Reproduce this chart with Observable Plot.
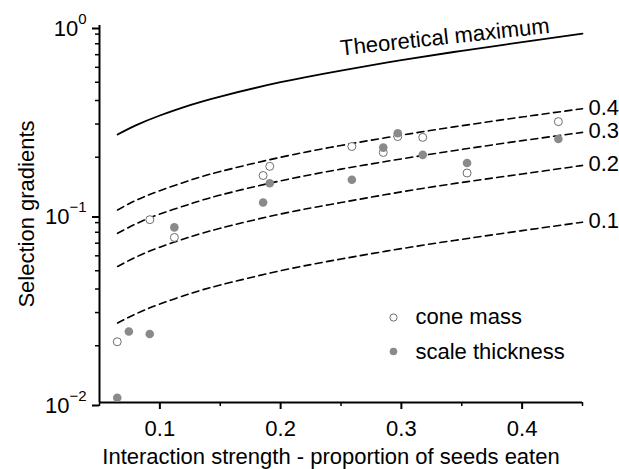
<!DOCTYPE html>
<html><head><meta charset="utf-8">
<script src="https://cdn.jsdelivr.net/npm/d3@7"></script>
<script src="https://cdn.jsdelivr.net/npm/@observablehq/plot@0.6"></script>
<style>body{margin:0;background:#fff}</style>
</head><body><div id="chart"></div>
<script>
const xTitle = "Interaction strength - proportion of seeds eaten";
const yTitle = "Selection gradients";

// cone mass (open circles)
const coneMassX = [0.0647, 0.0917, 0.112, 0.1855, 0.191, 0.259, 0.285, 0.297, 0.3177, 0.3544, 0.430];
const coneMassY = [0.0210, 0.0933, 0.0751, 0.160, 0.179, 0.228, 0.212, 0.2575, 0.255, 0.165, 0.309];
// scale thickness (filled circles)
const scaleX = [0.0647, 0.0743, 0.0916, 0.112, 0.1855, 0.191, 0.259, 0.285, 0.297, 0.3177, 0.3544, 0.430];
const scaleY = [0.0106, 0.0238, 0.0231, 0.0849, 0.115, 0.1455, 0.152, 0.225, 0.268, 0.206, 0.1866, 0.250];

// curves
const curveX = [0.065, 0.08, 0.10, 0.125, 0.15, 0.20, 0.25, 0.30, 0.35, 0.40, 0.45];
const theoretical = [0.264, 0.295, 0.333, 0.378, 0.42, 0.50, 0.577, 0.655, 0.734, 0.816, 0.905];
const grad04 = [0.105, 0.118, 0.133, 0.151, 0.168, 0.200, 0.231, 0.262, 0.294, 0.327, 0.362];
const grad03 = [0.079, 0.0885, 0.100, 0.113, 0.126, 0.150, 0.173, 0.196, 0.220, 0.245, 0.271];
const grad02 = [0.0527, 0.059, 0.0667, 0.0756, 0.084, 0.100, 0.115, 0.131, 0.147, 0.163, 0.181];
const grad01 = [0.0264, 0.0295, 0.0333, 0.0378, 0.042, 0.050, 0.0577, 0.0655, 0.0734, 0.0816, 0.0905];
const curveLevels = ["0.4", "0.3", "0.2", "0.1"];

const xMajorTicks = [0.1, 0.2, 0.3, 0.4];
const xMinorTicks = [0.05, 0.15, 0.25, 0.35, 0.45];
const yMajorTicks = [0.01, 0.1, 1];
const yMinorTicks = [0.02,0.03,0.04,0.05,0.06,0.07,0.08,0.09,0.2,0.3,0.4,0.5,0.6,0.7,0.8,0.9];
const legendLabels = ["cone mass", "scale thickness"];
const theoLabel = [{x: 0.336, y: 0.867, text: "Theoretical maximum"}];

const cone = coneMassX.map((x, i) => ({x, y: coneMassY[i]}));
const scale = scaleX.map((x, i) => ({x, y: scaleY[i]}));
const theory = curveX.map((x, i) => ({x, y: theoretical[i]}));
const curves = [grad04, grad03, grad02, grad01].flatMap((vals, k) =>
  vals.map((v, i) => ({x: curveX[i], y: v, level: curveLevels[k]})));
const curveEnds = [grad04, grad03, grad02, grad01].map((vals, k) =>
  ({x: curveX[curveX.length - 1], y: vals[vals.length - 1], level: curveLevels[k]}));

const FONT = "'Liberation Sans', Arial, Helvetica, sans-serif";

const chart = Plot.plot({
  width: 619, height: 469,
  marginTop: 25, marginBottom: 67, marginLeft: 99, marginRight: 37,
  style: {fontFamily: FONT, fontSize: "22px", color: "#000", background: "#fff"},
  x: {type: "linear", domain: [0.05, 0.45]},
  y: {type: "log", domain: [0.01, 1]},
  marks: [
    Plot.axisX({ticks: xMajorTicks, tickSize: 7, tickPadding: 11, strokeWidth: 2, tickFormat: d => d.toFixed(1), label: null}),
    Plot.axisX({ticks: xMinorTicks, tickSize: 4, strokeWidth: 1.5, tickFormat: () => "", label: null}),
    Plot.axisY({ticks: yMajorTicks, tickSize: 7, tickPadding: 6, strokeWidth: 2, dy: 3, tickFormat: d => String(Math.round(Math.log10(d))), label: null}),
    Plot.axisY({ticks: yMinorTicks, tickSize: 4, strokeWidth: 1.5, tickFormat: () => "", label: null}),
    Plot.ruleX([0.05], {strokeWidth: 2}),
    Plot.ruleY([0.01], {strokeWidth: 2}),
    Plot.line(theory, {x: "x", y: "y", curve: "natural", strokeWidth: 1.8}),
    Plot.line(curves, {x: "x", y: "y", z: "level", curve: "natural", strokeWidth: 1.6, strokeDasharray: "7,4.5"}),
    Plot.text(curveEnds, {x: "x", y: "y", text: "level", textAnchor: "start", lineAnchor: "middle", dx: 6, dy: -1}),
    Plot.text(theoLabel, {x: "x", y: "y", text: "text", rotate: -6.2, textAnchor: "middle", lineAnchor: "middle"}),
    Plot.dot(cone, {x: "x", y: "y", r: 4, fill: "white", stroke: "#6e6e6e", strokeWidth: 1}),
    Plot.dot(scale, {x: "x", y: "y", r: 4.3, fill: "#8a8a8a"}),
    Plot.dot([legendLabels[0]], {frameAnchor: "top-left", dx: 294, dy: 292, r: 3.6, fill: "white", stroke: "#6e6e6e", strokeWidth: 1}),
    Plot.dot([legendLabels[1]], {frameAnchor: "top-left", dx: 294, dy: 326, r: 3.8, fill: "#8a8a8a"}),
    Plot.text([legendLabels[0]], {frameAnchor: "top-left", dx: 316, dy: 291.5, textAnchor: "start", lineAnchor: "middle", text: d => d}),
    Plot.text([legendLabels[1]], {frameAnchor: "top-left", dx: 316, dy: 326.5, textAnchor: "start", lineAnchor: "middle", text: d => d}),
    Plot.text([xTitle], {frameAnchor: "bottom", dx: -10, dy: 54, textAnchor: "middle", lineAnchor: "middle", text: d => d}),
    Plot.text([yTitle], {frameAnchor: "left", dx: -73, rotate: -90, textAnchor: "middle", lineAnchor: "middle", text: d => d})
  ]
});

// superscript exponents for the log tick labels (major ticks only)
chart.querySelectorAll('[aria-label="y-axis tick label"] text').forEach(t => {
  const raw = t.textContent.trim();
  if (!raw) return;
  const e = raw.replace("-", "\u2212");
  t.textContent = "";
  const base = document.createElementNS("http://www.w3.org/2000/svg", "tspan");
  base.textContent = "10";
  const sup = document.createElementNS("http://www.w3.org/2000/svg", "tspan");
  sup.textContent = e;
  sup.setAttribute("dy", "-12");
  sup.setAttribute("font-size", "15");
  t.appendChild(base);
  t.appendChild(sup);
});

document.getElementById("chart").appendChild(chart);
</script>
</body></html>
